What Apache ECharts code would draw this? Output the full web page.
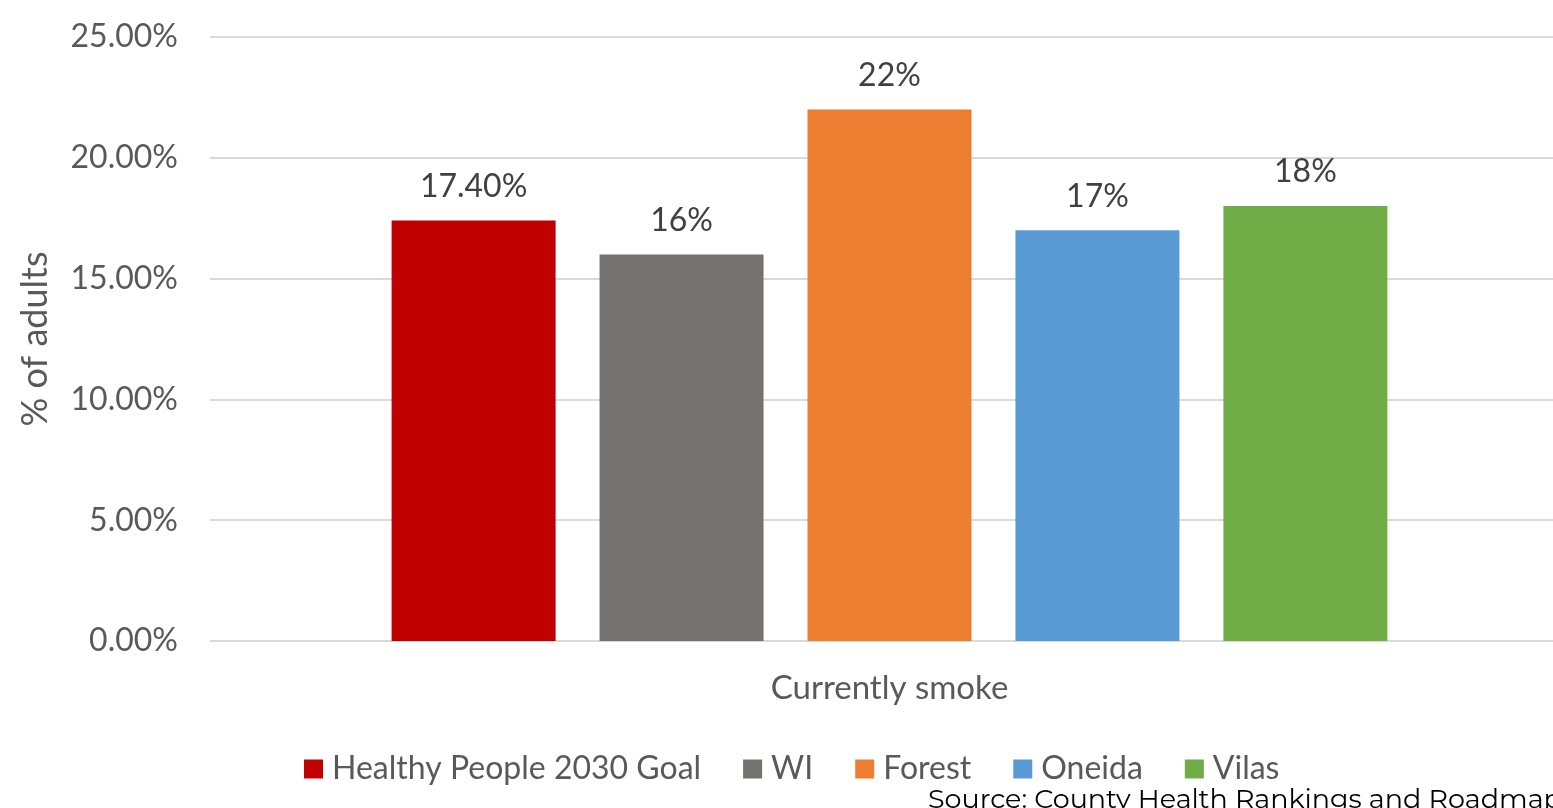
<!DOCTYPE html>
<html><head><meta charset="utf-8">
<script src="https://cdn.jsdelivr.net/npm/echarts@6/dist/echarts.min.js"></script>
<style>html,body{margin:0;padding:0;background:#fff;overflow:hidden}#c{width:1569px;height:808px}</style>
</head><body><div id="c"></div>
<script>
const categories = ['Currently smoke'];
const seriesNames = ['Healthy People 2030 Goal', 'WI', 'Forest', 'Oneida', 'Vilas'];
const seriesValues = [[17.4], [16], [22], [17], [18]];
const valueLabels = ['17.40%', '16%', '22%', '17%', '18%'];
const colors = ['#C00000', '#767171', '#ED7D31', '#5B9BD5', '#70AD47'];
const yTicks = [0, 5, 10, 15, 20, 25];

const font = 'Lato, "Open Sans", sans-serif';
const chart = echarts.init(document.getElementById('c'));
chart.setOption({
  animation: false,
  grid: { left: 210, right: 0, top: 37, bottom: 167, containLabel: false },
  legend: {
    left: 299, top: 748, icon: 'rect', itemWidth: 19, itemHeight: 19, itemGap: 42,
    textStyle: { fontFamily: font, fontSize: 32, color: '#595959', padding: [0, 0, 0, 4] },
    data: seriesNames
  },
  xAxis: {
    type: 'category', data: categories,
    axisLine: { show: false }, axisTick: { show: false },
    axisLabel: { fontFamily: font, fontSize: 33, color: '#595959', margin: 31 }
  },
  yAxis: {
    type: 'value', min: yTicks[0], max: yTicks[yTicks.length - 1], interval: 5,
    name: '% of adults', nameLocation: 'middle', nameGap: 157, nameRotate: 90,
    nameTextStyle: { fontFamily: font, fontSize: 36, color: '#595959' },
    axisLine: { show: false }, axisTick: { show: false },
    axisLabel: { fontFamily: font, fontSize: 32, color: '#595959', margin: 32,
      formatter: v => v.toFixed(2) + '%' },
    splitLine: { lineStyle: { color: '#D9D9D9', width: 2 } }
  },
  series: seriesNames.map((n, i) => ({
    name: n, type: 'bar', data: seriesValues[i], barWidth: 164, barGap: '26.8%',
    itemStyle: { color: colors[i] },
    label: { show: true, position: 'top', distance: 18, fontFamily: font, fontSize: 32,
      color: '#404040', formatter: () => valueLabels[i] }
  })),
  graphic: [{
    type: 'text', left: 928, top: 787,
    style: { text: 'Source: County Health Rankings and Roadmaps', fontFamily: 'Montserrat, "Open Sans", sans-serif',
      fontSize: 27, fill: '#000' }
  }]
});
</script></body></html>
